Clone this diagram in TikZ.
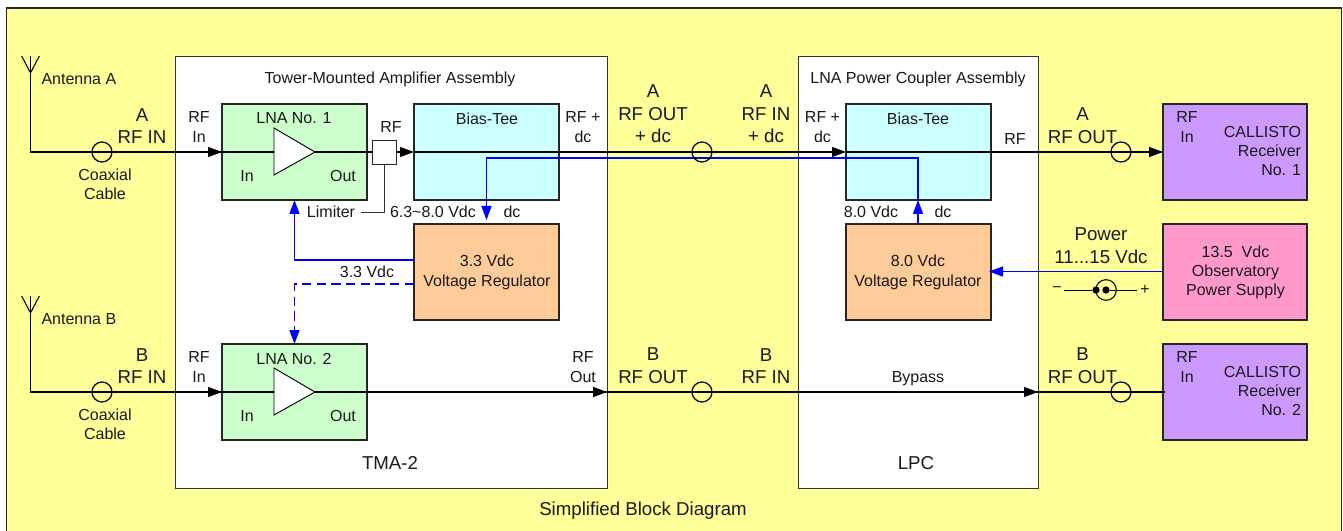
\documentclass[tikz,border=0pt]{standalone}
\usepackage{fontspec}
\setmainfont{Liberation Sans}
\usetikzlibrary{arrows.meta}
\definecolor{bgyellow}{HTML}{FFFF99}
\definecolor{lnagreen}{HTML}{CCFFCC}
\definecolor{teecyan}{HTML}{CCFFFF}
\definecolor{regorange}{HTML}{FFCC99}
\definecolor{recvviolet}{HTML}{CC99FF}
\definecolor{psupink}{HTML}{FF99CC}
\definecolor{wireblue}{HTML}{0000FF}
\tikzset{
  x=0.75pt,y=-0.75pt,
  every node/.style={font=\fontsize{12pt}{15pt}\selectfont,inner sep=0pt,outer sep=0pt,align=center,text=black!90},
  biglbl/.style={font=\fontsize{14pt}{17pt}\selectfont},
  tightlbl/.style={font=\fontsize{12pt}{14.3pt}\selectfont},
  assembly/.style={draw=black!80,fill=white,line width=0.6pt,minimum width=#1*0.75pt,minimum height=324pt,anchor=north west},
  blockbox/.style={draw=black!85,line width=1pt,minimum width=#1*0.75pt,minimum height=72pt,anchor=north west},
  coax/.style={circle,draw=black,line width=0.9pt,minimum size=15pt,fill=none},
  wire/.style={draw=black,line width=1.1pt},
  rfarrow/.style={wire,-{Triangle[length=10.5pt,width=7.5pt]}},
  dcwire/.style={draw=wireblue,line width=1.1pt},
  dcarrow/.style={dcwire,-{Triangle[length=10.5pt,width=7.5pt]}},
  gain/.style={draw=black,fill=white,line width=0.7pt},
  antenna/.style={draw=black,line width=0.8pt},
}
\begin{document}
\begin{tikzpicture}
\useasboundingbox (0,0) rectangle (1343,531);
% background panel
\draw[draw=black!85,fill=bgyellow,line width=0.8pt] (6.5,8) rectangle (1341.5,540);
% assemblies
\node[assembly=432] (tma) at (175,56) {};
\node[assembly=240] (lpc) at (798,56) {};
% blocks
\node[blockbox=145,fill=lnagreen] (lnaA) at (222,104) {};
\node[blockbox=145,fill=lnagreen] (lnaB) at (222,344) {};
\node[blockbox=145,fill=teecyan] (teeA) at (414,104) {};
\node[blockbox=145,fill=teecyan] (teeB) at (846,104) {};
\node[blockbox=145,fill=regorange] (regA) at (414,224) {};
\node[blockbox=145,fill=regorange] (regB) at (846,224) {};
\node[blockbox=144,fill=recvviolet] (rxA) at (1163,104) {};
\node[blockbox=144,fill=psupink] (psu) at (1163,224) {};
\node[blockbox=144,fill=recvviolet] (rxB) at (1163,344) {};
% named end points
\coordinate (antA) at (30.5,56);
\coordinate (antAfoot) at (30.5,152);
\coordinate (antB) at (30.5,296);
\coordinate (antBfoot) at (30.5,392);
\coordinate (lnaAin) at (222,152);
\coordinate (lnaBin) at (222,392);
\coordinate (teeAin) at (414,152);
\coordinate (teeBin) at (846,152);
\coordinate (rxAin) at (1163,152);
\coordinate (lpcBin) at (1038,392);
\coordinate (rxBin) at (1165,392);
\coordinate (tmaBout) at (607,392);
\coordinate (regAtop) at (486.5,220);
\coordinate (regBtop) at (918,224);
\coordinate (teeBbot) at (918,200);
\coordinate (bendB) at (918,158);
\coordinate (bendA) at (486.5,158);
\coordinate (regAsolid) at (414,260);
\coordinate (regAdash) at (414,284);
\coordinate (lnaAbot) at (294.5,200);
\coordinate (lnaBtop) at (294.5,344);
\coordinate (psuout) at (1163,271.5);
\coordinate (regBin) at (989,271.5);
\coordinate (limA) at (384,212);
\coordinate (limB) at (361,212);
% signal wires
\draw[wire] (antA) -- (antAfoot) -- (lnaAin);
\draw[wire] (antB) -- (antBfoot) -- (lnaBin);
\draw[rfarrow] (175,152) -- (lnaAin);
\draw[rfarrow] (175,392) -- (lnaBin);
\draw[wire] (lnaAin) -- (372,152);
\draw[rfarrow] (396,152) -- (teeAin);
\draw[rfarrow] (teeAin) -- (teeBin);
\draw[wire] (teeBin) -- (rxAin);
\draw[rfarrow] (1100,152) -- (rxAin);
\draw[wire] (lnaBin) -- (tmaBout);
\draw[rfarrow] (367,392) -- (tmaBout);
\draw[wire] (tmaBout) -- (lpcBin);
\draw[rfarrow] (798,392) -- (lpcBin);
\draw[wire] (lpcBin) -- (rxBin);
% limiter
\node[draw=black!85,fill=white,line width=0.7pt,minimum size=18pt] (limiter) at (384,152) {};
\draw[draw=black!80,line width=0.5pt] (limiter.south) -- (limA) -- (limB);
% amplifier triangles
\draw[gain] (274,128) -- (315,152) -- (274,175) -- cycle;
\draw[gain] (274,368) -- (315,392) -- (274,415) -- cycle;
% dc wires
\draw[dcarrow] (regAsolid) -| (lnaAbot);
\draw[dcarrow,dash pattern=on 7pt off 4pt] (regAdash) -| (lnaBtop);
\draw[dcarrow] (teeBbot) -- (bendB) -- (bendA) -- (regAtop);
\draw[dcarrow] (regBtop) -- (teeBbot);
\draw[dcarrow] (psuout) -- (regBin);
% antennas
\draw[antenna] (21.7,56) -- (30.5,73) -- (39.3,56);
\draw[antenna] (21.7,296) -- (30.5,313) -- (39.3,296);
% coax rings
\node[coax] (cA1) at (102,152) {};
\node[coax] (cB1) at (102,392) {};
\node[coax] (cA2) at (702,152) {};
\node[coax] (cB2) at (702,392) {};
\node[coax] (cA3) at (1121,152) {};
\node[coax] (cB3) at (1121,392) {};
% power jack
\node[circle,fill=black,minimum size=5.5pt] (jackL) at (1096,290) {};
\node[circle,fill=black,minimum size=5.5pt] (jackC) at (1106,290) {};
\node[circle,draw=black,line width=0.8pt,minimum size=15.5pt] (jackRing) at (1106,290) {};
\coordinate (jackWireL) at (1064,290);
\coordinate (jackWireR) at (1137,290);
\draw[wire,line width=0.7pt] (jackWireL) -- (jackL);
\draw[wire,line width=0.7pt] (jackC) -- (jackWireR);
\node at (1057,289.5) {−};
\node at (1145,290) {+};
% text
\node[anchor=west] at (41.5,79.5) {Antenna A};
\node[anchor=west] at (41.5,319.5) {Antenna B};
\node[biglbl] at (142,126) {A\\RF IN};
\node[biglbl] at (142,366) {B\\RF IN};
\node[tightlbl] at (105,184.5) {Coaxial\\Cable};
\node[tightlbl] at (105,424) {Coaxial\\Cable};
\node at (199,127) {RF\\In};
\node at (199,367) {RF\\In};
\node at (390,79.5) {Tower-Mounted Amplifier Assembly};
\node at (294,118.5) {LNA No. 1};
\node at (294,358.5) {LNA No. 2};
\node at (247,176) {In};
\node at (247,416) {In};
\node at (343,176) {Out};
\node at (343,416) {Out};
\node at (391,127) {RF};
\node at (331,212) {Limiter};
\node[anchor=west] at (390,212) {6.3\textasciitilde 8.0 Vdc};
\node at (512,212) {dc};
\node at (367,272) {3.3 Vdc};
\node at (487,118.5) {Bias-Tee};
\node at (583,127) {RF +\\dc};
\node at (487,272) {3.3 Vdc\\Voltage Regulator};
\node[biglbl] at (390,463) {TMA-2};
\node[biglbl] at (653,114) {A\\RF OUT\\+ dc};
\node[biglbl] at (766,114) {A\\RF IN\\+ dc};
\node[biglbl] at (653,366) {B\\RF OUT};
\node[biglbl] at (766,366) {B\\RF IN};
\node at (583,367) {RF\\Out};
\node at (918,79.5) {LNA Power Coupler Assembly};
\node at (822.5,127) {RF +\\dc};
\node at (918,118.5) {Bias-Tee};
\node at (1015,139) {RF};
\node at (871,212) {8.0 Vdc};
\node at (943,212) {dc};
\node at (918,272) {8.0 Vdc\\Voltage Regulator};
\node at (918,379) {Bypass};
\node[biglbl] at (916,463) {LPC};
\node[biglbl] at (1082.5,126) {A\\RF OUT};
\node[biglbl] at (1082.5,366) {B\\RF OUT};
\node[biglbl] at (1101,245.5) {Power\\11...15 Vdc};
\node at (1187,127) {RF\\In};
\node at (1187,367) {RF\\In};
\node[tightlbl,align=right,anchor=east] at (1301,151) {CALLISTO\\Receiver\\No. 1};
\node[tightlbl,align=right,anchor=east] at (1301,391) {CALLISTO\\Receiver\\No. 2};
\node[tightlbl] at (1235.5,272) {13.5\ \ Vdc\\Observatory\\Power Supply};
\node[biglbl] at (643,511) {Simplified Block Diagram};
\end{tikzpicture}
\end{document}
